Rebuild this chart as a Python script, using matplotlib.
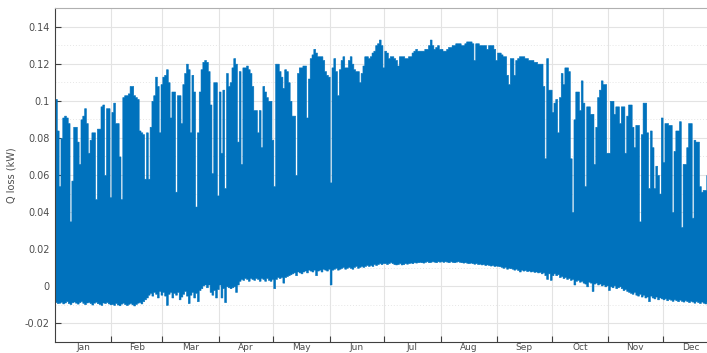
import numpy as np
import matplotlib
matplotlib.use("Agg")
import matplotlib.pyplot as plt
from matplotlib.ticker import FixedLocator, MultipleLocator

# Daily extremes of the hourly heat-loss series (kW), one list per month
max_jan = [0.101, 0.084, 0.054, 0.080, 0.091, 0.092, 0.091, 0.088, 0.035, 0.057,
           0.086, 0.086, 0.078, 0.066, 0.090, 0.092, 0.096, 0.088, 0.072, 0.079,
           0.083, 0.083, 0.047, 0.085, 0.085, 0.097, 0.098, 0.060, 0.096, 0.096,
           0.048]
max_feb = [0.094, 0.099, 0.088, 0.088, 0.070, 0.047, 0.102, 0.103, 0.103, 0.104,
           0.108, 0.108, 0.103, 0.102, 0.101, 0.084, 0.083, 0.082, 0.058, 0.083,
           0.058, 0.086, 0.100, 0.103, 0.113, 0.108, 0.083, 0.109]
max_mar = [0.113, 0.114, 0.117, 0.110, 0.091, 0.105, 0.105, 0.051, 0.103, 0.103,
           0.088, 0.109, 0.115, 0.120, 0.117, 0.083, 0.114, 0.105, 0.043, 0.083,
           0.105, 0.117, 0.121, 0.122, 0.121, 0.116, 0.098, 0.061, 0.110, 0.110,
           0.049]
max_apr = [0.105, 0.072, 0.106, 0.053, 0.115, 0.108, 0.110, 0.118, 0.123, 0.120,
           0.078, 0.116, 0.066, 0.118, 0.118, 0.119, 0.117, 0.115, 0.108, 0.095,
           0.095, 0.083, 0.095, 0.075, 0.108, 0.105, 0.102, 0.100, 0.100, 0.079]
max_may = [0.054, 0.120, 0.120, 0.116, 0.113, 0.107, 0.117, 0.116, 0.110, 0.100,
           0.092, 0.092, 0.060, 0.115, 0.118, 0.118, 0.119, 0.119, 0.091, 0.112,
           0.123, 0.125, 0.128, 0.126, 0.124, 0.124, 0.124, 0.122, 0.116, 0.114,
           0.113]
max_jun = [0.056, 0.118, 0.123, 0.116, 0.103, 0.117, 0.122, 0.124, 0.118, 0.118,
           0.122, 0.124, 0.120, 0.117, 0.116, 0.116, 0.110, 0.115, 0.119, 0.124,
           0.124, 0.123, 0.124, 0.126, 0.127, 0.130, 0.131, 0.133, 0.130, 0.118]
max_jul = [0.127, 0.126, 0.123, 0.124, 0.124, 0.123, 0.122, 0.119, 0.124, 0.124,
           0.124, 0.123, 0.123, 0.124, 0.124, 0.126, 0.127, 0.128, 0.127, 0.127,
           0.127, 0.127, 0.128, 0.128, 0.130, 0.133, 0.130, 0.128, 0.129, 0.130,
           0.128]
max_aug = [0.128, 0.127, 0.127, 0.128, 0.129, 0.129, 0.130, 0.130, 0.131, 0.131,
           0.131, 0.130, 0.130, 0.131, 0.132, 0.132, 0.132, 0.131, 0.122, 0.131,
           0.131, 0.130, 0.130, 0.130, 0.130, 0.128, 0.130, 0.130, 0.130, 0.128,
           0.122]
max_sep = [0.126, 0.126, 0.125, 0.124, 0.124, 0.114, 0.109, 0.123, 0.123, 0.114,
           0.122, 0.123, 0.124, 0.124, 0.124, 0.123, 0.123, 0.122, 0.122, 0.122,
           0.121, 0.121, 0.120, 0.120, 0.120, 0.108, 0.069, 0.123, 0.106, 0.106]
max_oct = [0.094, 0.099, 0.101, 0.083, 0.102, 0.115, 0.109, 0.118, 0.118, 0.116,
           0.069, 0.040, 0.090, 0.105, 0.105, 0.095, 0.111, 0.099, 0.054, 0.097,
           0.097, 0.093, 0.093, 0.066, 0.086, 0.102, 0.106, 0.111, 0.109, 0.109,
           0.072]
max_nov = [0.072, 0.100, 0.100, 0.093, 0.097, 0.097, 0.088, 0.097, 0.097, 0.072,
           0.092, 0.098, 0.098, 0.086, 0.075, 0.087, 0.087, 0.035, 0.082, 0.099,
           0.099, 0.083, 0.053, 0.084, 0.075, 0.053, 0.065, 0.060, 0.050, 0.091]
max_dec = [0.067, 0.088, 0.088, 0.087, 0.087, 0.040, 0.073, 0.084, 0.084, 0.089,
           0.032, 0.066, 0.066, 0.075, 0.088, 0.088, 0.037, 0.079, 0.078, 0.078,
           0.054, 0.051, 0.052, 0.052, 0.060, 0.075, 0.070, 0.080, 0.065, 0.078,
           0.072]

min_jan = [-0.0085, -0.0090, -0.0088, -0.0083, -0.0092, -0.0087, -0.0080, -0.0090,
           -0.0095, -0.0086, -0.0082, -0.0088, -0.0093, -0.0085, -0.0080, -0.0089,
           -0.0096, -0.0087, -0.0084, -0.0090, -0.0098, -0.0088, -0.0083, -0.0091,
           -0.0095, -0.0100, -0.0087, -0.0090, -0.0085, -0.0092, -0.0097]
min_feb = [-0.0095, -0.0100, -0.0090, -0.0098, -0.0102, -0.0093, -0.0088, -0.0096,
           -0.0101, -0.0094, -0.0090, -0.0097, -0.0103, -0.0095, -0.0088, -0.0085,
           -0.0092, -0.0080, -0.0070, -0.0060, -0.0045, -0.0035, -0.0050, -0.0030,
           -0.0040, -0.0060, -0.0025, -0.0045]
min_mar = [-0.0030, -0.0050, -0.0100, -0.0040, -0.0030, -0.0060, -0.0035, -0.0045,
           -0.0030, -0.0070, -0.0055, -0.0040, -0.0025, -0.0050, -0.0090, -0.0045,
           -0.0030, -0.0060, -0.0035, -0.0080, -0.0020, -0.0010, 0.0005, 0.0010,
           -0.0005, 0.0010, -0.0030, -0.0045, -0.0020, -0.0060, -0.0015]
min_apr = [0.0010, -0.0060, -0.0010, -0.0085, 0.0000, -0.0005, -0.0010, -0.0005,
           0.0000, -0.0030, 0.0010, 0.0030, 0.0040, 0.0035, 0.0045, 0.0040,
           0.0030, 0.0045, 0.0040, 0.0035, 0.0045, 0.0040, 0.0030, 0.0045,
           0.0040, 0.0030, 0.0045, 0.0035, 0.0030, 0.0040]
min_may = [-0.0010, 0.0040, 0.0050, 0.0045, 0.0050, 0.0020, 0.0050, 0.0055,
           0.0060, 0.0065, 0.0070, 0.0075, 0.0060, 0.0080, 0.0075, 0.0070,
           0.0080, 0.0085, 0.0075, 0.0090, 0.0085, 0.0080, 0.0090, 0.0060,
           0.0085, 0.0090, 0.0080, 0.0095, 0.0090, 0.0085, 0.0095]
min_jun = [0.0010, 0.0090, 0.0095, 0.0100, 0.0090, 0.0095, 0.0100, 0.0105,
           0.0095, 0.0100, 0.0105, 0.0100, 0.0095, 0.0105, 0.0110, 0.0100,
           0.0105, 0.0110, 0.0105, 0.0110, 0.0115, 0.0110, 0.0115, 0.0110,
           0.0120, 0.0115, 0.0120, 0.0125, 0.0120, 0.0125]
min_jul = [0.0125, 0.0120, 0.0125, 0.0130, 0.0125, 0.0120, 0.0118, 0.0120,
           0.0125, 0.0118, 0.0120, 0.0125, 0.0122, 0.0125, 0.0128, 0.0125,
           0.0130, 0.0128, 0.0130, 0.0132, 0.0130, 0.0128, 0.0132, 0.0135,
           0.0130, 0.0132, 0.0135, 0.0133, 0.0130, 0.0135, 0.0133]
min_aug = [0.0135, 0.0132, 0.0135, 0.0133, 0.0130, 0.0135, 0.0132, 0.0130,
           0.0133, 0.0135, 0.0132, 0.0130, 0.0128, 0.0130, 0.0127, 0.0125,
           0.0128, 0.0125, 0.0122, 0.0125, 0.0120, 0.0122, 0.0118, 0.0120,
           0.0115, 0.0118, 0.0115, 0.0112, 0.0115, 0.0110, 0.0112]
min_sep = [0.0110, 0.0108, 0.0105, 0.0100, 0.0105, 0.0095, 0.0100, 0.0098,
           0.0095, 0.0090, 0.0095, 0.0088, 0.0080, 0.0090, 0.0085, 0.0088,
           0.0082, 0.0085, 0.0080, 0.0082, 0.0078, 0.0080, 0.0075, 0.0078,
           0.0070, 0.0075, 0.0060, 0.0040, 0.0070, 0.0035]
min_oct = [0.0060, 0.0070, 0.0060, 0.0065, 0.0050, 0.0055, 0.0045, 0.0050,
           0.0040, 0.0045, 0.0035, 0.0040, 0.0010, 0.0030, 0.0035, 0.0025,
           0.0030, 0.0020, 0.0015, 0.0000, 0.0025, 0.0020, -0.0025, 0.0015,
           0.0020, 0.0010, 0.0015, 0.0005, 0.0010, 0.0000, 0.0005]
min_nov = [-0.0020, 0.0000, -0.0005, 0.0005, -0.0010, -0.0005, 0.0000, -0.0010,
           -0.0020, -0.0015, -0.0025, -0.0030, -0.0035, -0.0040, -0.0030, -0.0045,
           -0.0050, -0.0040, -0.0055, -0.0045, -0.0060, -0.0055, -0.0080, -0.0050,
           -0.0060, -0.0065, -0.0055, -0.0070, -0.0060, -0.0065]
min_dec = [-0.0070, -0.0065, -0.0075, -0.0068, -0.0072, -0.0078, -0.0070, -0.0075,
           -0.0080, -0.0072, -0.0078, -0.0082, -0.0075, -0.0080, -0.0085, -0.0078,
           -0.0082, -0.0088, -0.0080, -0.0085, -0.0090, -0.0082, -0.0088, -0.0092,
           -0.0085, -0.0090, -0.0095, -0.0088, -0.0092, -0.0090, -0.0095]

month_names = ["Jan", "Feb", "Mar", "Apr", "May", "Jun",
               "Jul", "Aug", "Sep", "Oct", "Nov", "Dec"]
y_ticks = [-0.02, 0.0, 0.02, 0.04, 0.06, 0.08, 0.10, 0.12, 0.14]
y_tick_labels = ["-0.02", "0", "0.02", "0.04", "0.06", "0.08", "0.1", "0.12", "0.14"]

daily_max = (max_jan + max_feb + max_mar + max_apr + max_may + max_jun +
             max_jul + max_aug + max_sep + max_oct + max_nov + max_dec)
daily_min = (min_jan + min_feb + min_mar + min_apr + min_may + min_jun +
             min_jul + min_aug + min_sep + min_oct + min_nov + min_dec)
month_lengths = [len(m) for m in (max_jan, max_feb, max_mar, max_apr, max_may, max_jun,
                                  max_jul, max_aug, max_sep, max_oct, max_nov, max_dec)]

n_days = len(daily_max)
edges = np.arange(n_days + 1)
upper = np.append(daily_max, daily_max[-1])
lower = np.append(daily_min, daily_min[-1])

month_edges = np.concatenate([[0], np.cumsum(month_lengths)])
month_centres = (month_edges[:-1] + month_edges[1:]) / 2

W, H = 707, 353
fig = plt.figure(figsize=(W / 100, H / 100), dpi=100)
ax = fig.add_axes([55 / W, 1 - 342 / H, 664 / W, 334 / H])

blue = "#0072BD"
ax.fill_between(edges, lower, upper, step="post", color=blue, linewidth=0.4,
                edgecolor=blue, zorder=2)

ax.set_xlim(0, n_days)
ax.set_ylim(-0.03, 0.15)

text_col = "#4d4d4d"
ax.xaxis.set_major_locator(FixedLocator(month_edges[1:-1]))
ax.xaxis.set_minor_locator(FixedLocator(month_centres))
ax.set_xticklabels([""] * len(month_edges[1:-1]))
ax.set_xticklabels(month_names, minor=True)
ax.tick_params(axis="x", which="major", direction="in", length=4, width=0.8,
               color="#404040")
ax.tick_params(axis="x", which="minor", length=0, labelsize=6.5,
               labelcolor=text_col, pad=0.5)

ax.set_yticks(y_ticks)
ax.set_yticklabels(y_tick_labels)
ax.yaxis.set_minor_locator(MultipleLocator(0.01))
ax.tick_params(axis="y", which="major", direction="in", length=4, width=0.8,
               color="#404040", labelsize=7, labelcolor=text_col, pad=4)
ax.tick_params(axis="y", which="minor", length=0)

ax.set_axisbelow(True)
ax.grid(True, which="major", axis="both", color="#e3e3e3", linewidth=0.8,
        linestyle="-")
ax.grid(True, which="minor", axis="y", color="#e6e6e6", linewidth=0.7,
        linestyle=(0, (1, 2)))

for side in ("left", "bottom"):
    ax.spines[side].set_color("#404040")
    ax.spines[side].set_linewidth(0.8)
ax.spines["top"].set_color("#b0b0b0")
ax.spines["top"].set_linewidth(0.8)
ax.spines["right"].set_visible(False)

ax.set_ylabel("Q loss (kW)", fontsize=7, color=text_col, labelpad=6)

fig.savefig("out.png", dpi=100)
